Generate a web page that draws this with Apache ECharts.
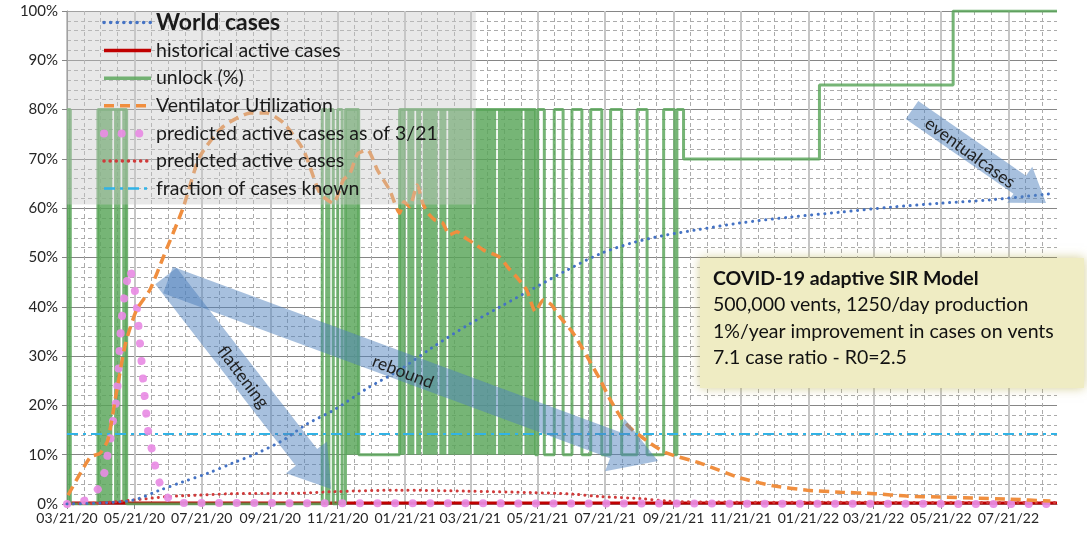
<!DOCTYPE html>
<html>
<head>
<meta charset="utf-8">
<title>COVID-19 adaptive SIR Model</title>
<script src="https://cdn.jsdelivr.net/npm/echarts@6/dist/echarts.min.js"></script>
<style>
  html, body { margin: 0; padding: 0; background: #fff; }
  #chart { width: 1087px; height: 533px; }
</style>
</head>
<body>
<div id="chart"></div>
<script>
// x values are days counted from 03/21/20
const START = Date.UTC(2020, 2, 21);
const DAY = 86400000;
const LAST_DAY = 896;

const worldDays = [0, 30, 60, 84, 105, 127, 150, 172, 196, 217, 241, 272, 301, 331, 362, 392, 422, 453, 483, 512, 543, 570, 609, 655, 700, 745, 790, 836, 893];
const worldVals = [0, 0.002, 0.008, 0.028, 0.045, 0.062, 0.083, 0.103, 0.13, 0.162, 0.19, 0.235, 0.272, 0.318, 0.362, 0.40, 0.437, 0.475, 0.508, 0.53, 0.546, 0.556, 0.57, 0.582, 0.592, 0.602, 0.61, 0.617, 0.63];

const histDays = [0, 896];
const histVals = [0.002, 0.002];

// unlock level, each value holds until the next day in the list
const unlockDays = [0, 3, 28, 54, 231, 235, 237, 241, 245, 249, 252, 264, 301, 424, 426, 432, 441, 449, 457, 466, 474, 484, 492, 502, 516, 525, 540, 550, 552, 558, 681, 802, 896];
const unlockVals = [0.8, 0, 0.8, 0, 0.8, 0, 0.8, 0, 0.8, 0, 0.8, 0.1, 0.8, 0.1, 0.8, 0.1, 0.8, 0.1, 0.8, 0.1, 0.8, 0.1, 0.8, 0.1, 0.8, 0.1, 0.8, 0.1, 0.8, 0.7, 0.85, 1.0, 1.0];
// stretches where unlock switches every day and looks solid: [from, to, low, high]
const unlockBlocks = [
  [0, 3, 0, 0.8], [28, 41, 0, 0.8], [42.6, 48.4, 0, 0.8], [50, 54, 0, 0.8],
  [252, 264, 0.1, 0.8],
  [301, 306.4], [308, 314.4], [316, 320.4], [322, 335.4], [337, 343.4],
  [345, 366.4], [368, 388.4], [390, 412.4], [414, 424]
].map(b => b.length === 4 ? b : [b[0], b[1], 0.1, 0.8]);

const ventDays = [1, 21, 30, 37, 45, 53, 63, 75, 87, 105, 120, 141, 166, 181, 196, 214, 229, 241, 250, 256, 263, 272, 281, 292, 301, 305, 310, 317, 322, 326, 333, 340, 346, 353, 359, 368, 377, 392, 399, 407, 416, 424, 431, 438, 446, 458, 471, 483, 492, 503, 512, 528, 543, 573, 609, 639, 670, 700, 731, 760, 790, 820, 852, 890];
const ventVals = [0.018, 0.095, 0.103, 0.13, 0.23, 0.326, 0.394, 0.434, 0.50, 0.60, 0.704, 0.765, 0.793, 0.793, 0.773, 0.718, 0.63, 0.61, 0.657, 0.67, 0.71, 0.718, 0.677, 0.637, 0.59, 0.613, 0.603, 0.647, 0.61, 0.592, 0.576, 0.57, 0.546, 0.552, 0.542, 0.529, 0.515, 0.50, 0.48, 0.46, 0.434, 0.39, 0.414, 0.405, 0.38, 0.347, 0.298, 0.25, 0.21, 0.17, 0.15, 0.123, 0.103, 0.083, 0.053, 0.037, 0.028, 0.024, 0.021, 0.016, 0.014, 0.012, 0.01, 0.006];

const pred321Days = [0, 16, 28, 34, 37, 40, 42, 45, 47, 49, 51, 53, 57, 61, 63, 66, 69, 72, 74, 78, 81, 86, 93, 102, 896];
const pred321Vals = [0, 0.007, 0.03, 0.064, 0.103, 0.14, 0.176, 0.214, 0.288, 0.366, 0.404, 0.44, 0.477, 0.44, 0.404, 0.327, 0.25, 0.176, 0.136, 0.10, 0.062, 0.028, 0.008, 0.002, 0];

const predDays = [0, 30, 60, 91, 120, 150, 211, 241, 301, 362, 422, 458, 483, 519, 543, 573, 896];
const predVals = [0, 0.002, 0.008, 0.015, 0.018, 0.021, 0.022, 0.025, 0.028, 0.026, 0.023, 0.02, 0.015, 0.011, 0.006, 0.004, 0.003];

const knownDays = [0, 896];
const knownVals = [0.142, 0.142];

const FONT = 'Lato';

function pairs(days, vals) {
  return days.map((d, i) => [d, vals[i]]);
}

function fmtDate(d) {
  const t = new Date(START + d * DAY);
  const p = n => String(n).padStart(2, '0');
  return p(t.getUTCMonth() + 1) + '/' + p(t.getUTCDate()) + '/' + p(t.getUTCFullYear() % 100);
}

// major gridlines on the 21st every two months, minor ones at quarters between
const majorDays = [];
for (let k = 0; k < 16; k++) {
  majorDays.push(Math.round((Date.UTC(2020, 2 + 2 * k, 21) - START) / DAY));
}
const minorDays = [];
for (let k = 0; k < majorDays.length - 1; k++) {
  for (let j = 1; j < 4; j++) {
    const v = majorDays[k] + (majorDays[k + 1] - majorDays[k]) * j / 4;
    if (v < LAST_DAY) minorDays.push(v);
  }
}
const labelDays = majorDays.filter(d => d <= LAST_DAY);

// block arrow polygon from tail centre to tip
function arrowPoints(x1, y1, x2, y2, shaft, head, headLen) {
  const dx = x2 - x1, dy = y2 - y1, L = Math.hypot(dx, dy);
  const ux = dx / L, uy = dy / L, nx = -uy, ny = ux;
  const bx = x2 - ux * headLen, by = y2 - uy * headLen;
  return [
    [x1 + nx * shaft / 2, y1 + ny * shaft / 2],
    [bx + nx * shaft / 2, by + ny * shaft / 2],
    [bx + nx * head / 2, by + ny * head / 2],
    [x2, y2],
    [bx - nx * head / 2, by - ny * head / 2],
    [bx - nx * shaft / 2, by - ny * shaft / 2],
    [x1 - nx * shaft / 2, y1 - ny * shaft / 2]
  ];
}

const arrowFill = 'rgba(79,129,189,0.5)';
function arrowText(text, x, y, deg) {
  return {
    type: 'text', x: x, y: y, rotation: -deg * Math.PI / 180, z: 101,
    style: { text: text, fill: '#1f1f1f', font: '17.5px ' + FONT, textAlign: 'center', textVerticalAlign: 'middle' }
  };
}

function boxText(text, y, bold) {
  return {
    type: 'text', z: 101, x: 713, y: y,
    style: { text: text, fill: '#111', font: (bold ? 'bold ' : '') + '19.5px ' + FONT, textVerticalAlign: 'middle' }
  };
}

const GREEN = 'rgba(88,165,88,0.82)';

let chart = echarts.init(document.getElementById('chart'));
chart.setOption({
  animation: false,
  grid: { left: 67, right: 30, top: 11, bottom: 29 },
  legend: {
    orient: 'vertical',
    left: 67,
    top: 11,
    padding: [0, 38, 5, 33],
    itemGap: 5.6,
    itemWidth: 47,
    itemHeight: 14,
    selectedMode: false,
    itemStyle: { opacity: 0 },
    lineStyle: { width: 3.5 },
    backgroundColor: 'rgba(200,200,200,0.42)',
    textStyle: { fontFamily: FONT, fontSize: 19.5, color: '#1a1a1a', lineHeight: 22 },
    data: [
      { name: 'World cases', textStyle: { fontSize: 23, fontWeight: 'bold', lineHeight: 22 } },
      'historical active cases',
      'unlock (%)',
      'Ventilator Utilization',
      { name: 'predicted active cases as of 3/21', lineStyle: { width: 8 } },
      'predicted active cases',
      { name: 'fraction of cases known', lineStyle: { width: 2.5 } }
    ]
  },
  xAxis: [
    {
      type: 'value',
      min: 0,
      max: LAST_DAY,
      axisLine: { onZero: false, lineStyle: { color: '#868686' } },
      axisTick: { show: true, customValues: labelDays, length: 5, lineStyle: { color: '#868686' } },
      axisLabel: { customValues: labelDays, formatter: fmtDate, color: '#262626', fontFamily: FONT, fontSize: 14, margin: 7 },
      splitLine: { show: true, lineStyle: { color: '#c6c6c6', width: 2 } }
    },
    {
      type: 'value',
      min: 0,
      max: LAST_DAY,
      position: 'bottom',
      axisLine: { show: false },
      axisTick: { show: false, customValues: minorDays },
      axisLabel: { show: false },
      splitLine: { show: true, lineStyle: { color: '#ababab', width: 1, type: [4, 3] } }
    }
  ],
  yAxis: {
    type: 'value',
    min: 0,
    max: 1,
    interval: 0.1,
    axisLine: { show: true, lineStyle: { color: '#868686' } },
    axisTick: { show: true, length: 5, lineStyle: { color: '#868686' } },
    axisLabel: { formatter: v => Math.round(v * 100) + '%', color: '#262626', fontFamily: FONT, fontSize: 15, margin: 9 },
    splitLine: { lineStyle: { color: '#868686' } },
    minorTick: { show: false, splitNumber: 5 },
    minorSplitLine: { show: true, lineStyle: { color: '#ababab', type: [4, 3] } }
  },
  series: [
    {
      name: 'historical active cases',
      type: 'line',
      data: pairs(histDays, histVals),
      symbol: 'none',
      lineStyle: { color: '#c00000', width: 3 },
      itemStyle: { color: '#c00000' }
    },
    {
      name: 'unlock (%)',
      type: 'line',
      step: 'end',
      data: pairs(unlockDays, unlockVals),
      symbol: 'none',
      lineStyle: { color: GREEN, width: 3 },
      itemStyle: { color: GREEN },
      markArea: {
        silent: true,
        itemStyle: { color: GREEN },
        data: unlockBlocks.map(b => [{ coord: [b[0], b[2]] }, { coord: [b[1], b[3]] }])
      }
    },
    {
      name: 'fraction of cases known',
      type: 'line',
      data: pairs(knownDays, knownVals),
      symbol: 'none',
      lineStyle: { color: '#31b3e6', width: 2, type: [11, 5, 3, 5] },
      itemStyle: { color: '#31b3e6' }
    },
    {
      name: 'predicted active cases',
      type: 'line',
      data: pairs(predDays, predVals),
      symbol: 'none',
      smooth: 0.3,
      lineStyle: { color: '#d03a3a', width: 3, type: [0.1, 6], cap: 'round' },
      itemStyle: { color: '#d03a3a' }
    },
    {
      name: 'predicted active cases as of 3/21',
      type: 'line',
      data: pairs(pred321Days, pred321Vals),
      symbol: 'none',
      lineStyle: { color: 'rgba(232,140,228,0.92)', width: 8, type: [0.1, 17.5], cap: 'round' },
      itemStyle: { color: '#e88ce4' }
    },
    {
      name: 'World cases',
      type: 'line',
      data: pairs(worldDays, worldVals),
      symbol: 'none',
      smooth: 0.3,
      lineStyle: { color: '#4472c4', width: 3, type: [0.1, 6.5], cap: 'round' },
      itemStyle: { color: '#4472c4' }
    },
    {
      name: 'Ventilator Utilization',
      type: 'line',
      data: pairs(ventDays, ventVals),
      symbol: 'none',
      smooth: 0.2,
      lineStyle: { color: '#f08e3e', width: 3.5, type: [10, 6] },
      itemStyle: { color: '#f08e3e' }
    }
  ],
  graphic: {
    elements: [
      { type: 'polygon', z: 100, shape: { points: arrowPoints(168, 280, 658, 461, 28, 56, 46) }, style: { fill: arrowFill } },
      { type: 'polygon', z: 100, shape: { points: arrowPoints(166, 276, 331, 489, 27, 52, 40) }, style: { fill: arrowFill } },
      { type: 'polygon', z: 100, shape: { points: arrowPoints(912, 110, 1046, 203, 22, 44, 32) }, style: { fill: arrowFill } },
      arrowText('flattening', 243, 377, 53),
      arrowText('rebound', 403, 372, 21),
      arrowText('eventualcases', 970, 153, 36),
      {
        type: 'rect', z: 100,
        shape: { x: 700, y: 258, width: 384, height: 130 },
        style: { fill: '#efecc3', shadowBlur: 10, shadowColor: 'rgba(185,175,80,0.6)' }
      },
      boxText('COVID-19 adaptive SIR Model', 279, true),
      boxText('500,000 vents, 1250/day production', 305, false),
      boxText('1%/year improvement in cases on vents', 332, false),
      boxText('7.1 case ratio - R0=2.5', 358, false)
    ]
  }
});
</script>
</body>
</html>
